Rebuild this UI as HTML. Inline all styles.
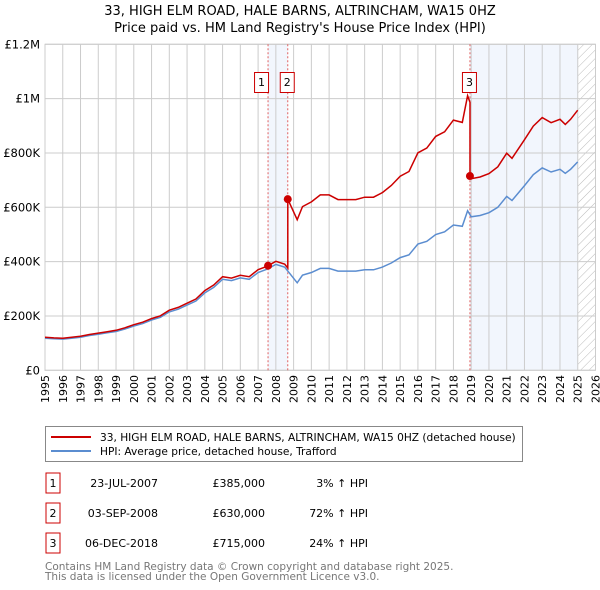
<!DOCTYPE html>
<html><head><meta charset="utf-8"><style>
body{margin:0;background:#fff;font-family:"Liberation Sans","DejaVu Sans",sans-serif}
svg{display:block}
</style></head><body>
<svg width="600" height="590" xmlns="http://www.w3.org/2000/svg" font-family="DejaVu Sans, Liberation Sans, sans-serif">
<defs><pattern id="hatch" width="6" height="6" patternUnits="userSpaceOnUse" patternTransform="rotate(45)"><line x1="0" y1="0" x2="0" y2="6" stroke="#bbb" stroke-width="1"/></pattern></defs>
<text x="300" y="15" text-anchor="middle" font-size="13">33, HIGH ELM ROAD, HALE BARNS, ALTRINCHAM, WA15 0HZ</text>
<text x="300" y="32" text-anchor="middle" font-size="13">Price paid vs. HM Land Registry's House Price Index (HPI)</text>
<g id="plot"></g>
<g>
<rect x="45.5" y="426.5" width="477" height="35" fill="#fff" stroke="#888"/>
<line x1="51" y1="437" x2="91" y2="437" stroke="#cc0000" stroke-width="2"/>
<text x="100" y="441" font-size="10.6">33, HIGH ELM ROAD, HALE BARNS, ALTRINCHAM, WA15 0HZ (detached house)</text>
<line x1="51" y1="451" x2="91" y2="451" stroke="#5b8dd0" stroke-width="2"/>
<text x="100" y="455" font-size="10.6">HPI: Average price, detached house, Trafford</text>
</g>
<g id="table" font-size="11"></g>
<text x="45" y="570" font-size="10.5" fill="#777">Contains HM Land Registry data © Crown copyright and database right 2025.</text>
<text x="45" y="580" font-size="10.5" fill="#777">This data is licensed under the Open Government Licence v3.0.</text>
</svg>
<script>
const hpiYears=[1995,1995.5,1996,1996.5,1997,1997.5,1998,1998.5,1999,1999.5,2000,2000.5,2001,2001.5,2002,2002.5,2003,2003.5,2004,2004.5,2005,2005.5,2006,2006.5,2007,2007.5,2008,2008.5,2009.2,2009.5,2010,2010.5,2011,2011.5,2012,2012.5,2013,2013.5,2014,2014.5,2015,2015.5,2016,2016.5,2017,2017.5,2018,2018.5,2018.8,2019,2019.5,2020,2020.5,2021,2021.3,2022,2022.5,2023,2023.5,2024,2024.3,2024.6,2025];
const hpiValues=[118000,116000,115000,118000,122000,128000,133000,138000,143000,152000,163000,172000,185000,195000,215000,225000,240000,255000,285000,305000,335000,330000,340000,335000,360000,372000,390000,380000,322000,350000,360000,375000,375000,365000,365000,365000,370000,370000,380000,395000,415000,425000,465000,475000,500000,510000,535000,530000,587000,565000,570000,580000,600000,640000,625000,680000,720000,745000,730000,740000,725000,740000,767000];
const saleDates=[2007.56,2008.67,2018.93];
const salePrices=[385000,630000,715000];
const saleLabels=["1","2","3"];
const saleDateText=["23-JUL-2007","03-SEP-2008","06-DEC-2018"];
const salePriceText=["£385,000","£630,000","£715,000"];
const salePctText=["3% ↑ HPI","72% ↑ HPI","24% ↑ HPI"];
const yTicks=[0,200000,400000,600000,800000,1000000,1200000];
const yTickLabels=["£0","£200K","£400K","£600K","£800K","£1M","£1.2M"];

const NS="http://www.w3.org/2000/svg";
const X0=45,X1=595.5,Y0=370.3,Y1=44.3;
const x=t=>X0+(t-1995)/(2026-1995)*(X1-X0);
const y=v=>Y0-v/1200000*(Y0-Y1);
const plot=document.getElementById('plot');
function mk(tag,attrs,parent){const e=document.createElementNS(NS,tag);for(const k in attrs)e.setAttribute(k,attrs[k]);(parent||plot).appendChild(e);return e;}
function hpiAt(t){for(let i=1;i<hpiYears.length;i++){if(t<=hpiYears[i]){const f=(t-hpiYears[i-1])/(hpiYears[i]-hpiYears[i-1]);return hpiValues[i-1]+f*(hpiValues[i]-hpiValues[i-1]);}}return hpiValues[hpiValues.length-1];}

let e;
e=mk('rect',{x:x(saleDates[0]),y:Y1,width:x(saleDates[1])-x(saleDates[0]),height:Y0-Y1,fill:'#f2f6fd'});

e=mk('rect',{x:x(saleDates[2]),y:Y1,width:x(2025)-x(saleDates[2]),height:Y0-Y1,fill:'#f2f6fd'});

e=mk('rect',{x:x(2025),y:Y1,width:X1-x(2025),height:Y0-Y1,fill:'url(#hatch)'});

for(let yr=1995;yr<=2026;yr++){
  e=mk('line',{x1:x(yr),x2:x(yr),y1:Y1,y2:Y0,stroke:'#ccc','stroke-width':1});
  
  e=mk('text',{x:0,y:0,'font-size':11,'text-anchor':'end',transform:`translate(${x(yr)+4},375) rotate(-90)`});
  e.textContent=yr;
  
}
yTicks.forEach((v,i)=>{
  e=mk('line',{x1:X0,x2:X1,y1:y(v),y2:y(v),stroke:'#ccc','stroke-width':1});
  
  e=mk('text',{x:40,y:y(v)+4,'font-size':11.5,'text-anchor':'end'});
  e.textContent=yTickLabels[i];
  
});
e=mk('rect',{x:X0,y:Y1,width:X1-X0,height:Y0-Y1,fill:'none',stroke:'#ccc'});

saleDates.forEach((d,i)=>{
  e=mk('line',{x1:x(d),x2:x(d),y1:Y1,y2:Y0,stroke:'#e06060','stroke-width':1,'stroke-dasharray':'2,2'});
  
});
let p=hpiYears.map((t,i)=>(i?'L':'M')+x(t).toFixed(1)+','+y(hpiValues[i]).toFixed(1)).join('');
e=mk('path',{d:p,fill:'none',stroke:'#5b8dd0','stroke-width':1.5});

const ts=[...hpiYears,...saleDates].sort((a,b)=>a-b);
let pts=[];
ts.forEach(t=>{
  let k=0;for(let j=0;j<saleDates.length;j++)if(t>=saleDates[j])k=j;
  if(t===saleDates[k]&&k>0){pts.push([t,salePrices[k-1]*hpiAt(t)/hpiAt(saleDates[k-1])]);}
  pts.push([t,salePrices[k]*hpiAt(t)/hpiAt(saleDates[k])]);
});
p=pts.map((q,i)=>(i?'L':'M')+x(q[0]).toFixed(1)+','+y(q[1]).toFixed(1)).join('');
e=mk('path',{d:p,fill:'none',stroke:'#cc0000','stroke-width':1.5});

saleDates.forEach((d,i)=>{
  e=mk('circle',{cx:x(d),cy:y(salePrices[i]),r:4,fill:'#cc0000'});
  
  const lx=x(d)-(i==2?2:(i==0?8:2))-5;
  e=mk('rect',{x:lx-0.5,y:72.5,width:14,height:20,fill:'#fff',stroke:'#cc0000'});
  
  e=mk('text',{x:lx+6.5,y:86,'font-size':11,'text-anchor':'middle'});
  e.textContent=saleLabels[i];
  
});
const tb=document.getElementById('table');
saleDates.forEach((d,i)=>{
  const ry=473+i*30;
  e=mk('rect',{x:46,y:ry,width:14,height:20,fill:'#fff',stroke:'#cc0000'},tb);
  
  e=mk('text',{x:53,y:ry+14,'text-anchor':'middle'},tb);e.textContent=saleLabels[i];
  
  e=mk('text',{x:158,y:ry+14,'text-anchor':'end'},tb);e.textContent=saleDateText[i];
  
  e=mk('text',{x:265,y:ry+14,'text-anchor':'end'},tb);e.textContent=salePriceText[i];
  
  e=mk('text',{x:368,y:ry+14,'text-anchor':'end'},tb);e.textContent=salePctText[i];
  
});
</script>
</body></html>
